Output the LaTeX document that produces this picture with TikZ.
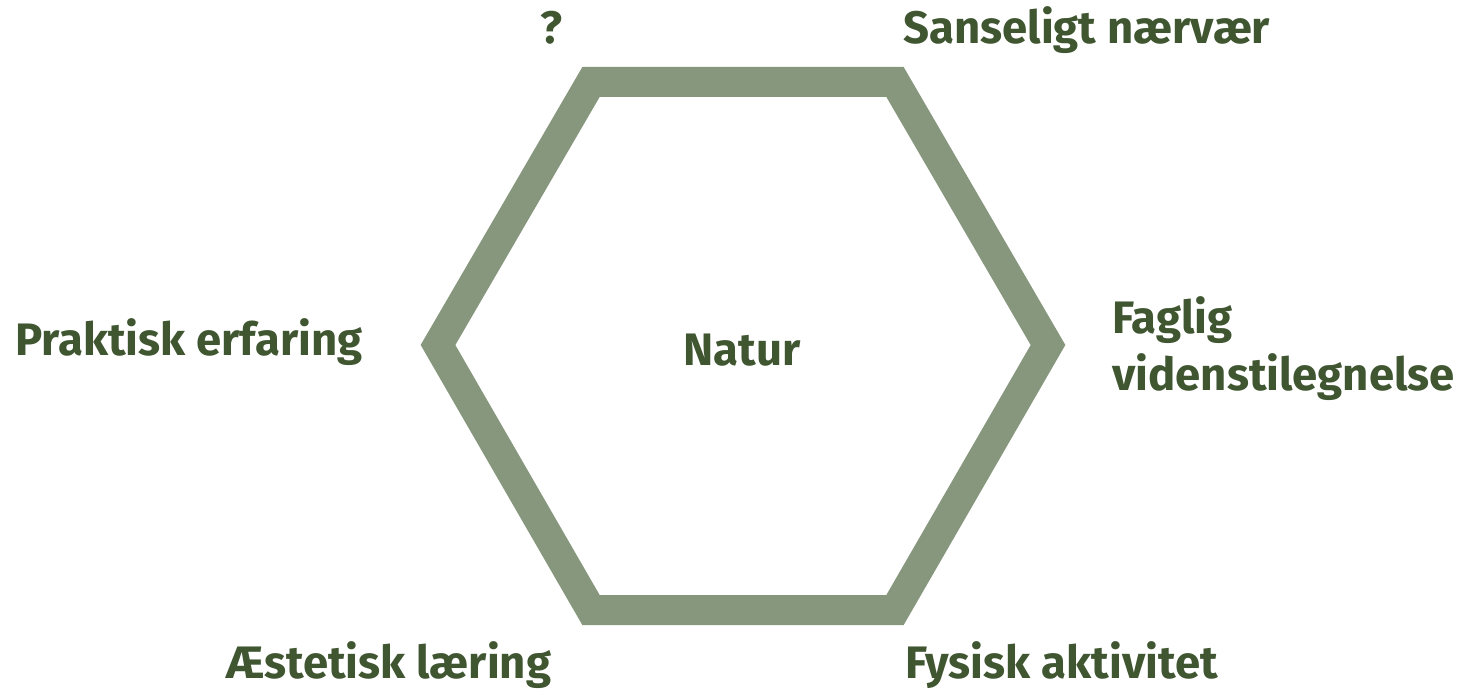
\documentclass[tikz,border=0pt]{standalone}
\usepackage{fontspec}
\setmainfont{Fira Sans}
\definecolor{hexgreen}{HTML}{87977D}
\definecolor{txtgreen}{HTML}{3F5631}
\begin{document}
\begin{tikzpicture}[x=1pt,y=-1pt,
  lbl/.style={anchor=base west,inner sep=0pt,text=txtgreen,font=\fontsize{45.5}{54}\selectfont\bfseries},
  hexline/.style={draw=hexgreen,line width=30pt,line join=miter}]
\useasboundingbox[fill=white] (0,0) rectangle (1460,700);
\coordinate (v1) at (591,82);
\coordinate (v2) at (895,82);
\coordinate (v3) at (1048,345);
\coordinate (v4) at (895,610);
\coordinate (v5) at (591,610);
\coordinate (v6) at (438,345);
\draw[hexline] (v1) -- (v2) -- (v3) -- (v4) -- (v5) -- (v6) -- cycle;
\node[lbl] (q) at (540,44) {?};
\node[lbl] (sans) at (903,44) {Sanseligt nærvær};
\node[lbl] (prak) at (15,356) {Praktisk erfaring};
\node[lbl,anchor=base] (natur) at (742,366) {Natur};
\node[lbl] (fag) at (1112,334) {Faglig};
\node[lbl] (viden) at (1112,391) {videnstilegnelse};
\node[lbl] (aest) at (226,678) {Æstetisk læring};
\node[lbl] (fys) at (905,678) {Fysisk aktivitet};
\end{tikzpicture}
\end{document}
